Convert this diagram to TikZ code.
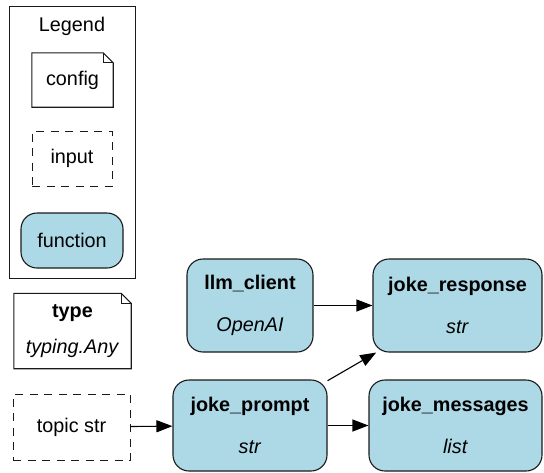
\documentclass[tikz,border=0pt]{standalone}
\usepackage{fontspec}
\setmainfont{Liberation Sans}
\usetikzlibrary{arrows.meta}
\definecolor{fnblue}{HTML}{ADD8E6}
\definecolor{edgegray}{HTML}{1A1A1A}
\tikzset{
  base/.style={inner sep=0pt, font=\fontsize{19.8}{23}\selectfont, text=black},
  notebox/.style={base},
  inputbox/.style={base, draw=edgegray, line width=1pt, dash pattern=on 8pt off 6.5pt},
  fnbox/.style={base, draw=edgegray, line width=1.1pt, fill=fnblue, rounded corners=16pt},
  twoline/.style={align=center, font=\fontsize{19.8}{42}\selectfont},
  edge/.style={draw=black, line width=1.1pt, -{Triangle[length=16pt,width=12pt]}},
}
\newcommand{\notefold}[1]{%
  \draw[line width=1.1pt, draw=edgegray] (#1.north west) -- ([xshift=-10pt]#1.north east) -- ([yshift=-10pt]#1.north east) -- (#1.south east) -- (#1.south west) -- cycle;
  \draw[line width=0.7pt, draw=edgegray] ([xshift=-10pt]#1.north east) -- ([xshift=-10pt,yshift=-10pt]#1.north east) -- ([yshift=-10pt]#1.north east);
}
\begin{document}
\begin{tikzpicture}[x=1pt,y=-1pt]
\useasboundingbox (0,0) rectangle (544,472);
% legend
\node[draw=edgegray, line width=1pt, minimum width=126pt, minimum height=272pt, inner sep=0pt] (legend) at (72,142) {};
\node[base] (legendtitle) at (72,26) {Legend};
\node[notebox, minimum width=81pt, minimum height=54pt] (config) at (72.5,80) {config};
\notefold{config}
\node[inputbox, minimum width=80pt, minimum height=55pt] (input) at (72,158.5) {input};
\node[fnbox, minimum width=102pt, minimum height=55pt] (function) at (72,240.5) {function};
% type note
\node[notebox, minimum width=117pt, minimum height=75pt, align=center, font=\fontsize{19.8}{36}\selectfont] (type) at (72.5,331) {\textbf{type}\\\textit{typing.Any}};
\notefold{type}
% graph
\node[inputbox, minimum width=117pt, minimum height=66pt] (topic) at (71.5,427) {topic str};
\node[fnbox, twoline, minimum width=126pt, minimum height=93pt] (llm) at (250,305.5) {\textbf{llm\_client}\\\textit{OpenAI}};
\node[fnbox, twoline, minimum width=169pt, minimum height=93pt] (response) at (457.5,305.5) {\textbf{joke\_response}\\\textit{str}};
\node[fnbox, twoline, minimum width=154pt, minimum height=91pt] (prompt) at (250,425.5) {\textbf{joke\_prompt}\\\textit{str}};
\node[fnbox, twoline, minimum width=173pt, minimum height=91pt] (messages) at (455.5,425.5) {\textbf{joke\_messages}\\\textit{list}};
\draw[edge] (topic) -- (prompt);
\draw[edge] (llm) -- (response);
\draw[edge] (prompt) -- (response);
\draw[edge] (prompt) -- (messages);
\end{tikzpicture}
\end{document}
